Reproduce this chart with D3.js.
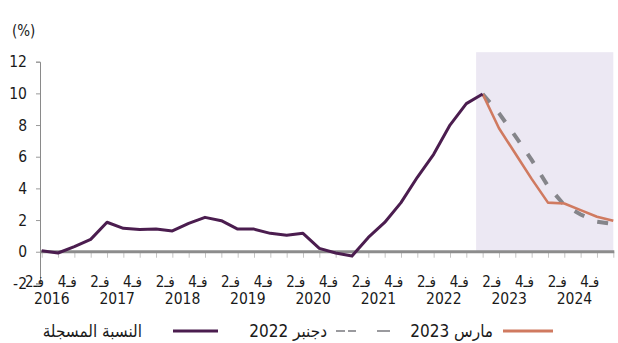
<!DOCTYPE html>
<html>
<head>
<meta charset="utf-8">
<script src="https://cdn.jsdelivr.net/npm/d3@7"></script>
<style>
  html, body { margin: 0; padding: 0; background: #ffffff; }
  svg { display: block; }
  text { font-family: 'Liberation Sans Narrow', 'DejaVu Sans Condensed', 'DejaVu Sans', sans-serif; fill: #1a1a1a; }
</style>
</head>
<body>
<svg id="chart" width="618" height="343"></svg>
<script>
// Quarterly inflation: recorded rate and two projection vintages (%)
const years = [2016, 2017, 2018, 2019, 2020, 2021, 2022, 2023, 2024];
const quarterNames = ["فـ1", "فـ2", "فـ3", "فـ4"];
const shownQuarters = [1, 3];               // only Q2 and Q4 get a label
const yTicks = [12, 10, 8, 6, 4, 2, 0, -2];

// recorded rate, 2016 Q1 .. 2022 Q4
const recorded = [0.06, -0.08, 0.32, 0.78, 1.86, 1.48, 1.41, 1.43, 1.31, 1.79, 2.17, 1.96,
                  1.43, 1.43, 1.16, 1.04, 1.16, 0.21, -0.08, -0.27, 0.9, 1.85, 3.1, 4.7,
                  6.15, 8.0, 9.35, 9.96];
// projections, 2022 Q4 .. 2024 Q4
const forecastDec2022 = [9.96, 8.75, 7.3, 5.8, 4.15, 2.95, 2.35, 1.9, 1.75];
const forecastMar2023 = [9.96, 7.8, 6.2, 4.6, 3.1, 3.05, 2.63, 2.21, 1.96];

const legendLabels = {
  recorded: "النسبة المسجلة",
  dec2022: "دجنبر 2022",
  mar2023: "مارس 2023"
};

const categories = years.flatMap(y => quarterNames.map((q, i) => `${y}-${i + 1}`));
const projStart = categories.indexOf("2022-4");

const svg = d3.select("#chart");

const x = d3.scalePoint().domain(categories).range([41.7, 613.3]);
const y = d3.scaleLinear().domain([-2, 12]).range([283.4, 61.7]);
const step = x.step();

// projection period background
svg.append("rect")
  .attr("x", x("2022-4") - 0.4 * step)
  .attr("y", y(12.6))
  .attr("width", x("2024-4") - x("2022-4") + 0.4 * step)
  .attr("height", y(0) - y(12.6))
  .attr("fill", "#ece8f3");

// y axis
const yAxis = svg.append("g").attr("transform", "translate(40,0)")
  .call(d3.axisLeft(y).tickValues(yTicks).tickSize(4).tickPadding(9).tickFormat(d => String(d)));
yAxis.select(".domain").attr("stroke", "#8a8a8a");
yAxis.selectAll(".tick line").attr("stroke", "#9a9a9a");
yAxis.selectAll(".tick text")
  .style("font-size", "15.5px")
  .style("font-family", "'Liberation Sans Narrow', 'DejaVu Sans Condensed', sans-serif")
  .attr("fill", "#1a1a1a");

svg.append("text").attr("x", 12).attr("y", 36).style("font-size", "15px").text("(%)");

// x axis: quarter ticks under the zero line
const xAxis = svg.append("g").attr("transform", `translate(0,${y(0)})`)
  .call(d3.axisBottom(x).tickSize(6).tickFormat(""));
xAxis.select(".domain").remove();
xAxis.selectAll(".tick line").attr("stroke", "#c4c4c4");

svg.append("line")
  .attr("x1", 40).attr("x2", x("2024-4") + 1)
  .attr("y1", y(0)).attr("y2", y(0))
  .attr("stroke", "#8c8c8c").attr("stroke-width", 3);

// quarter and year labels
const labelShift = -23.5;
const qLabels = svg.append("g");
years.forEach(yr => {
  shownQuarters.forEach(qi => {
    qLabels.append("text")
      .attr("x", x(`${yr}-${qi + 1}`) + labelShift)
      .attr("y", 286.5)
      .attr("text-anchor", "middle")
      .style("font-size", "15px")
      .text(quarterNames[qi]);
  });
  const mid = (x(`${yr}-2`) + x(`${yr}-4`)) / 2 + labelShift + 1;
  qLabels.append("text")
    .attr("x", mid).attr("y", 304)
    .attr("text-anchor", "middle")
    .style("font-size", "15.5px")
    .text(yr);
});

// series lines
const line = d3.line().x(d => x(d.c)).y(d => y(d.v));
const recordedPts = recorded.map((v, i) => ({ c: categories[i], v }));
const decPts = forecastDec2022.map((v, i) => ({ c: categories[projStart + i], v }));
const marPts = forecastMar2023.map((v, i) => ({ c: categories[projStart + i], v }));

svg.append("path").datum(decPts).attr("d", line)
  .attr("fill", "none").attr("stroke", "#85858a").attr("stroke-width", 4)
  .attr("stroke-dasharray", "11,14");

svg.append("path").datum(marPts).attr("d", line)
  .attr("fill", "none").attr("stroke", "#d07a60").attr("stroke-width", 2.6)
  .attr("stroke-linejoin", "round");

svg.append("path").datum(recordedPts).attr("d", line)
  .attr("fill", "none").attr("stroke", "#4b1d4f").attr("stroke-width", 3)
  .attr("stroke-linejoin", "round");

// legend
const legend = svg.append("g");
const ly = 331;
legend.append("line").attr("x1", 173).attr("x2", 218).attr("y1", ly).attr("y2", ly)
  .attr("stroke", "#4b1d4f").attr("stroke-width", 3);
legend.append("text").attr("x", 142).attr("y", ly + 5.5).attr("text-anchor", "end")
  .style("font-size", "17px").text(legendLabels.recorded);

legend.append("line").attr("x1", 336).attr("x2", 390).attr("y1", ly).attr("y2", ly)
  .attr("stroke", "#9a9a9e").attr("stroke-width", 2)
  .attr("stroke-dasharray", "9,3,8,21,13");
legend.append("text").attr("x", 327).attr("y", ly + 5.5).attr("text-anchor", "end")
  .style("font-size", "17px").text(legendLabels.dec2022);

legend.append("line").attr("x1", 503).attr("x2", 553).attr("y1", ly).attr("y2", ly)
  .attr("stroke", "#d07a60").attr("stroke-width", 3);
legend.append("text").attr("x", 493).attr("y", ly + 5.5).attr("text-anchor", "end")
  .style("font-size", "17px").text(legendLabels.mar2023);
</script>
</body>
</html>
